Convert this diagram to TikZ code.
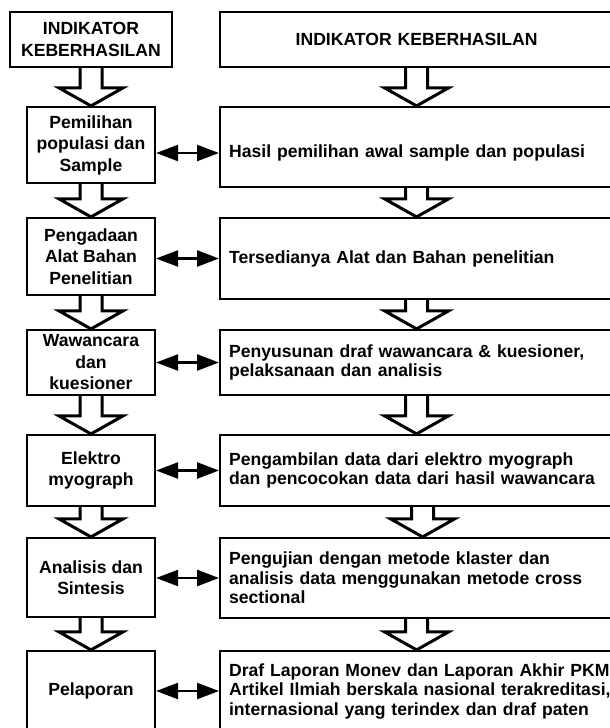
\documentclass[tikz,border=0pt]{standalone}
\usepackage{fontspec}
\setmainfont{Liberation Sans}
\usetikzlibrary{arrows.meta,calc}

% panah blok ke bawah: #2 awal (atas), #3 ujung (bawah)
\newcommand{\blockarrow}[3][0pt]{%
  \draw[blockarr] let \p1=#2, \p2=#3 in
    (\x2+#1-11pt,\y1) -- (\x2+#1-11pt,\y2+18pt) -- (\x2+#1-32pt,\y2+18pt) -- (\x2+#1,\y2)
    -- (\x2+#1+32pt,\y2+18pt) -- (\x2+#1+11pt,\y2+18pt) -- (\x2+#1+11pt,\y1);}

\begin{document}
\begin{tikzpicture}[x=1pt,y=-1pt,
    kiri/.style={draw,line width=2.2pt,minimum width=128pt,inner xsep=4pt,inner ysep=2pt,align=center,
      font=\bfseries\fontsize{17.6}{21.5}\selectfont},
    kanan/.style={draw,line width=2.2pt,anchor=west,text width=392pt,inner xsep=9pt,inner ysep=2pt,align=left,
      font=\bfseries\fontsize{17.6}{19.5}\selectfont},
    blockarr/.style={draw,line width=3pt},
    linkarr/.style={line width=2.5pt,{Triangle[length=22pt,width=16pt]}-{Triangle[length=22pt,width=16pt]}}]
  \path[use as bounding box,clip] (0,0) rectangle (610,728);
  % kolom kiri
  \node[kiri,minimum width=162pt,minimum height=55pt] (indL) at (91,39.5) {INDIKATOR\\KEBERHASILAN};
  \node[kiri,minimum height=76pt] (pilih) at (91,145) {Pemilihan\\populasi dan\\Sample};
  \node[kiri,minimum height=77pt] (alat) at (91,256.5) {Pengadaan\\Alat Bahan\\Penelitian};
  \node[kiri,minimum height=65pt] (wawan) at (91,362.5) {Wawancara\\dan\\kuesioner};
  \node[kiri,minimum height=71pt] (emg) at (91,470.5) {Elektro\\myograph};
  \node[kiri,minimum height=79pt] (analisis) at (91,577.5) {Analisis dan\\Sintesis};
  \node[kiri,minimum height=80pt] (lapor) at (91,691) {Pelaporan};
  % kolom kanan
  \node[kanan,text width=375pt,align=center,minimum height=55pt] (indR) at (219,39.5) {INDIKATOR KEBERHASILAN};
  \node[kanan,minimum height=80pt,text height=25pt] (hasilPilih) at (219,147) {Hasil pemilihan awal sample dan populasi};
  \node[kanan,minimum height=81pt] (hasilAlat) at (219,258.5) {Tersedianya Alat dan Bahan penelitian};
  \node[kanan,minimum height=65pt] (hasilWawan) at (219,362.5) {Penyusunan draf wawancara \& kuesioner,\\pelaksanaan dan analisis};
  \node[kanan,minimum height=71pt] (hasilEmg) at (219,470.5) {Pengambilan data dari elektro myograph\\dan pencocokan data dari hasil wawancara};
  \node[kanan,minimum height=80pt] (hasilAnalisis) at (219,578) {Pengujian dengan metode klaster dan\\analisis data menggunakan metode cross\\sectional};
  \node[kanan,minimum height=80pt] (hasilLapor) at (219,691) {Draf Laporan Monev dan Laporan Akhir PKM\\Artikel Ilmiah berskala nasional terakreditasi,\\internasional yang terindex dan draf paten};
  % panah blok
  \blockarrow{(indL.south)}{(pilih.north)}
  \blockarrow{(pilih.south)}{(alat.north)}
  \blockarrow{(alat.south)}{(wawan.north)}
  \blockarrow{(wawan.south)}{(emg.north)}
  \blockarrow{(emg.south)}{(analisis.north)}
  \blockarrow{(analisis.south)}{(lapor.north)}
  \blockarrow{(indR.south)}{(hasilPilih.north -| indR.south)}
  \blockarrow{(hasilPilih.south)}{(hasilAlat.north -| indR.south)}
  \blockarrow{(hasilAlat.south)}{(hasilWawan.north -| indR.south)}
  \blockarrow{(hasilWawan.south)}{(hasilEmg.north -| indR.south)}
  \blockarrow[6pt]{(hasilEmg.south)}{(hasilAnalisis.north -| indR.south)}
  \blockarrow{(hasilAnalisis.south)}{(hasilLapor.north -| indR.south)}
  % panah dua arah
  \draw[linkarr] ([yshift=-8pt]pilih.east) -- ([yshift=-6pt]hasilPilih.west);
  \draw[linkarr] (hasilAlat.west -| alat.east) -- (hasilAlat.west);
  \draw[linkarr] (hasilWawan.west -| wawan.east) -- (hasilWawan.west);
  \draw[linkarr] (hasilEmg.west -| emg.east) -- (hasilEmg.west);
  \draw[linkarr] (hasilAnalisis.west -| analisis.east) -- (hasilAnalisis.west);
  \draw[linkarr] (hasilLapor.west -| lapor.east) -- (hasilLapor.west);
\end{tikzpicture}
\end{document}
